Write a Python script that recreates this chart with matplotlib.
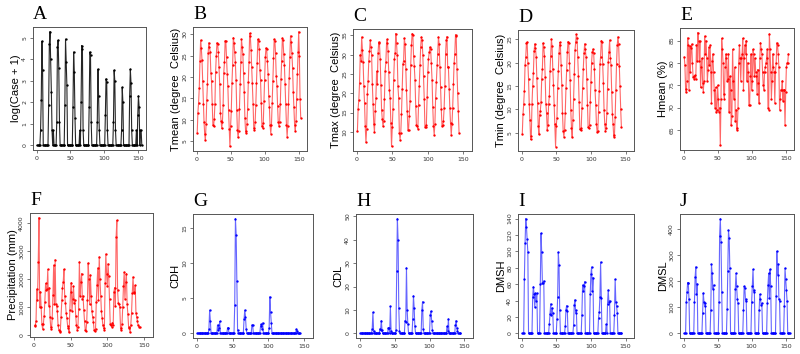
import numpy as np
import matplotlib.pyplot as plt

W, H = 800, 354

# ---- data (monthly series) ----
log_case = [
    0, 0, 0, 0, 0, 0.7, 2.1, 4.85, 3.5, 0, 0, 0,
    0, 0, 0, 0, 0, 1.9, 4.7, 5.3, 4.0, 2.5, 0.7, 0,
    0.7, 0, 0, 0, 0, 1.1, 4.6, 4.9, 3.6, 1.1, 0, 0,
    0, 0, 0, 0, 0, 1.9, 4.95, 3.9, 2.8, 0, 0, 0,
    0, 0, 0, 0, 0, 1.8, 4.35, 3.4, 1.3, 0, 0, 0,
    0, 0, 0, 0.7, 0, 2.0, 4.65, 4.5, 0.7, 0, 0, 0,
    0, 0, 0, 0, 0, 1.8, 4.35, 4.2, 1.1, 0, 0, 0,
    0, 0, 0, 0, 0, 1.1, 3.55, 2.3, 0.7, 0, 0, 0,
    0, 0, 0, 0, 0, 1.4, 3.1, 2.95, 0.7, 0, 0, 0,
    0, 0, 0, 0, 0, 1.1, 3.5, 3.0, 0.7, 0, 0, 0,
    0, 0, 0, 0, 0, 0.7, 2.7, 2.0, 0, 0, 0, 0,
    0, 0, 0, 0, 0, 2.3, 3.55, 2.9, 0.7, 0, 0, 0,
    0, 0, 0, 0.7, 0, 1.4, 2.3, 1.8, 0, 0.7, 0.7, 0,
]

tmean = [
    7.0, 11.7, 14.0, 17.5, 23.8, 28.6, 26.8, 24.0, 19.0, 13.6, 9.5, 6.6,
    5.3, 9.0, 14.6, 18.3, 25.5, 28.0, 27.0, 25.9, 21.0, 19.0, 13.6, 8.8,
    8.5, 10.2, 13.8, 21.2, 25.0, 28.0, 27.6, 25.8, 22.3, 18.3, 11.7, 9.8,
    8.0, 9.5, 13.4, 21.0, 23.4, 28.5, 28.4, 24.6, 20.8, 17.8, 12.2, 7.8,
    3.8, 8.5, 12.0, 18.6, 22.8, 29.2, 28.0, 25.8, 23.4, 19.2, 12.4, 7.6,
    5.9, 7.4, 12.5, 18.4, 23.4, 28.8, 27.0, 25.3, 21.0, 16.5, 10.4, 7.4,
    6.9, 9.0, 12.6, 18.8, 23.6, 30.2, 29.5, 26.4, 22.4, 18.7, 13.8, 8.1,
    7.6, 9.4, 13.4, 18.6, 23.2, 28.8, 28.4, 26.5, 21.6, 19.2, 14.0, 8.5,
    8.1, 9.3, 14.3, 19.2, 24.7, 26.8, 26.5, 23.8, 20.8, 15.5, 12.9, 8.7,
    6.8, 8.8, 13.9, 19.0, 24.5, 28.8, 28.5, 25.5, 20.3, 18.0, 13.2, 9.4,
    8.6, 9.6, 13.8, 19.6, 23.8, 29.1, 28.6, 25.4, 22.8, 18.4, 13.6, 8.9,
    6.1, 8.6, 13.7, 19.8, 24.6, 29.6, 28.2, 25.5, 22.2, 16.6, 12.9, 8.8,
    7.5, 9.7, 14.8, 20.7, 25.8, 30.6, 25.0, 14.8, 10.5,
]

tmax = [
    10.2, 16.0, 18.3, 22.7, 30.0, 28.4, 34.6, 31.2, 28.2, 22.0, 17.6, 11.5,
    7.3, 10.8, 19.8, 23.3, 28.4, 30.9, 33.8, 32.0, 29.9, 22.4, 17.3, 12.0,
    10.0, 15.5, 18.8, 25.7, 22.5, 30.4, 33.3, 33.0, 29.0, 22.2, 15.7, 13.3,
    11.5, 12.8, 18.4, 25.8, 28.0, 33.0, 34.0, 31.0, 25.6, 20.8, 18.7, 12.2,
    6.2, 11.2, 16.0, 23.5, 28.8, 30.5, 35.5, 33.0, 30.0, 21.8, 18.9, 9.8,
    8.0, 9.7, 14.5, 21.0, 27.6, 28.5, 34.3, 32.8, 26.3, 20.8, 15.3, 10.6,
    10.6, 14.2, 18.0, 27.3, 32.6, 35.5, 35.2, 29.6, 27.0, 23.5, 16.8, 11.8,
    11.5, 10.8, 17.0, 22.0, 27.3, 32.0, 34.6, 33.8, 30.0, 24.5, 18.6, 11.3,
    11.3, 11.8, 19.0, 25.4, 29.0, 30.6, 32.0, 31.6, 27.8, 23.5, 16.5, 11.4,
    9.3, 12.0, 18.8, 22.8, 27.3, 30.2, 34.6, 32.8, 26.9, 21.6, 15.8, 11.5,
    11.7, 12.8, 16.3, 21.8, 30.2, 33.8, 34.7, 26.8, 26.8, 21.2, 16.3, 12.2,
    9.2, 12.0, 16.1, 22.4, 27.8, 30.3, 35.2, 34.8, 26.4, 20.2, 15.3, 9.8,
]

tmin = [
    4.8, 9.0, 11.1, 14.0, 19.5, 21.2, 24.2, 24.4, 20.0, 16.5, 11.2, 7.8,
    3.6, 4.3, 11.2, 15.1, 17.8, 22.4, 24.0, 23.2, 21.3, 16.8, 11.3, 6.4,
    4.7, 8.8, 9.7, 11.5, 16.5, 18.7, 24.2, 23.3, 21.4, 17.0, 11.2, 9.2,
    5.6, 6.7, 11.2, 12.8, 18.2, 21.4, 25.0, 23.5, 18.6, 15.3, 11.0, 6.8,
    2.1, 6.5, 8.2, 14.6, 18.3, 22.0, 24.3, 23.7, 19.4, 15.3, 9.2, 5.4,
    4.2, 5.6, 9.3, 14.5, 18.5, 22.3, 24.5, 24.2, 20.0, 16.2, 9.8, 6.0,
    4.1, 7.8, 12.2, 17.5, 22.6, 24.3, 26.0, 25.3, 21.3, 17.2, 11.7, 5.8,
    5.6, 6.0, 10.3, 14.6, 18.6, 22.0, 24.0, 22.8, 21.2, 16.5, 11.0, 6.2,
    6.0, 6.7, 11.6, 15.8, 20.0, 22.3, 22.9, 22.0, 18.7, 14.2, 10.9, 6.8,
    5.2, 5.4, 9.4, 14.0, 19.6, 21.3, 24.7, 24.5, 19.7, 15.7, 9.8, 7.0,
    5.4, 6.1, 9.2, 14.4, 20.2, 22.3, 24.8, 21.0, 19.4, 13.8, 9.1, 6.8,
    4.2, 4.6, 8.5, 14.2, 19.8, 23.7, 25.5, 24.0, 19.2, 15.0, 10.1, 6.3,
]

hmean = [
    81.3, 79.5, 74.2, 73.4, 76.0, 85.6, 84.0, 74.0, 83.8, 78.0, 83.4, 84.2,
    80.0, 76.8, 77.0, 76.5, 77.2, 76.5, 84.0, 80.5, 86.8, 85.0, 80.5, 84.8,
    74.5, 79.0, 81.0, 75.5, 73.5, 76.0, 86.0, 82.0, 85.0, 81.0, 76.0, 78.5,
    83.5, 79.5, 84.0, 78.0, 71.0, 80.5, 82.0, 78.0, 74.0, 70.0, 74.5, 69.0,
    69.5, 75.0, 72.0, 69.0, 70.0, 61.5, 72.0, 85.5, 83.0, 80.0, 73.0, 72.0,
    79.0, 82.0, 81.0, 76.0, 76.5, 82.0, 69.0, 77.0, 74.0, 66.0, 68.0, 83.0,
    76.0, 72.0, 79.0, 67.0, 69.5, 65.0, 65.5, 70.0, 80.0, 84.0, 81.0, 76.0,
    81.0, 82.0, 85.5, 74.0, 81.0, 84.0, 82.0, 85.0, 76.0, 80.0, 78.0, 70.5,
    70.5, 77.0, 82.0, 74.0, 76.0, 83.0, 82.0, 77.0, 81.0, 78.0, 77.0, 73.0,
    78.5, 75.5, 71.0, 81.0, 84.5, 83.0, 82.0, 78.0, 75.0, 74.0, 78.0, 79.0,
    80.0, 81.0, 83.0, 70.0, 69.5, 86.5, 83.0, 78.0, 72.0, 76.0, 82.0, 79.0,
    78.0, 71.0, 78.0, 80.0, 84.5, 84.0, 82.0, 79.0, 69.5, 72.0, 74.0, 74.0,
    76.0, 71.5, 74.0, 74.0, 66.0, 73.5, 79.0, 80.0, 80.0, 82.0,
]

precip = [
    330, 350, 520, 1650, 1250, 2600, 4200, 1000, 1550, 1000, 400, 220,
    400, 700, 1200, 1850, 1600, 1650, 2350, 1050, 1700, 650, 280, 220,
    600, 1450, 2500, 1100, 2700, 1100, 1050, 850, 350, 200, 150, 120,
    650, 1250, 1700, 1900, 2350, 1400, 1150, 800, 600, 330, 240, 100,
    900, 1550, 1880, 880, 1300, 1750, 1150, 1250, 700, 350, 200, 280,
    950, 2620, 1400, 1900, 2200, 1300, 1400, 900, 500, 180, 150, 470,
    1250, 2580, 2000, 1100, 2150, 1400, 850, 650, 480, 200, 150, 220,
    1200, 1800, 2400, 1250, 2800, 2000, 1400, 850, 600, 350, 250, 200,
    1850, 2900, 2200, 1750, 2550, 2100, 1300, 400, 350, 300, 450, 350,
    1550, 1700, 1050, 3500, 4100, 1600, 1150, 1100, 1000, 250, 180, 400,
    1000, 1750, 2250, 1300, 1900, 2200, 1100, 750, 300, 250, 100, 380,
    800, 1500, 2080, 1500, 1550, 1780, 800, 650, 500, 350, 300, 300,
]

cdh = [
    0, 0, 0, 0, 0, 0, 0, 0, 0, 0, 0, 0,
    0, 0, 0, 0, 0.6, 3.3, 1.8, 0, 0, 0, 0, 0,
    0, 0, 0, 0, 1.2, 0.5, 0.8, 1.7, 0, 0, 0, 0,
    0, 0, 0, 0, 0, 0, 0.8, 0.8, 0, 0, 0, 0,
    0, 0, 0, 0, 4.0, 16.3, 14.0, 7.5, 0.5, 0, 0, 0,
    0, 0, 0, 0, 0, 2.0, 3.3, 2.4, 0.6, 0, 0, 0,
    0, 0, 0, 0, 1.2, 1.2, 0, 0, 0, 0, 0, 0,
    0, 0, 0, 0, 1.0, 1.3, 0.6, 1.5, 0, 0, 0, 0,
    0, 0, 0, 0, 0.8, 5.2, 3.0, 1.5, 0, 0, 0, 0,
    0, 0, 0, 0, 0, 0, 0, 0, 0, 0, 0, 0,
    0, 0, 0, 0, 0, 0, 0, 0, 0, 0, 0, 0,
    0, 0, 0, 0, 0, 0, 0.6, 0.4, 0, 0, 0, 0,
]

cdl = [
    0, 0, 0, 0, 0, 0, 0, 0, 0, 0, 0, 0,
    0, 0, 0, 0, 0, 2, 9, 1, 0, 0, 0, 0,
    0, 0, 0, 0, 2, 1.5, 5.5, 1.5, 0, 0, 0, 0,
    0, 0, 0, 0, 2.5, 2.5, 0, 11.5, 1, 0, 0, 0,
    0, 0, 0, 1.5, 26.5, 49, 40, 11, 1, 0, 0, 0,
    0, 0, 0, 0, 5.5, 5, 28, 10, 4, 0, 0, 0,
    0, 0, 0, 6, 16, 11, 3, 0, 0, 0, 0, 0,
    0, 0, 0, 0, 10, 13.5, 2, 0, 0, 0, 0, 0,
    0, 0, 0, 0, 8, 9.5, 5.5, 1.5, 0, 0, 0, 0,
    0, 0, 0, 0, 0, 0, 0, 0, 0, 0, 0, 0,
    0, 0, 0, 0, 3, 1, 6.2, 0, 0, 0, 0, 0,
    0, 0, 0, 0, 3.5, 5.5, 2.5, 1, 0, 0, 0, 0,
]

dmsh = [
    0, 0, 0, 66, 110, 140, 130, 115, 99, 0, 0, 0,
    0, 0, 0, 45, 57, 48, 32, 49, 40, 49, 0, 0,
    0, 0, 60, 122, 99, 61, 62, 64, 0, 0, 0, 0,
    0, 0, 0, 12, 24, 36, 22, 31, 25, 0, 0, 0,
    0, 0, 18, 44, 99, 83, 28, 0, 0, 0, 0, 0,
    0, 0, 9, 29, 34, 27, 0, 0, 0, 0, 0, 0,
    0, 0, 10, 35, 41, 25, 28, 0, 0, 0, 0, 0,
    0, 0, 23, 59, 52, 58, 63, 0, 0, 0, 0, 0,
    0, 0, 48, 72, 81, 52, 68, 0, 0, 0, 0, 0,
    0, 0, 19, 26, 44, 87, 43, 0, 0, 0, 0, 0,
    0, 11, 0, 36, 53, 38, 40, 0, 0, 0, 0, 0,
    0, 22, 66, 38, 34, 25, 0, 0, 0, 0, 0, 0,
]

dmsl = [
    0, 0, 0, 120, 160, 195, 195, 130, 0, 0, 0, 0,
    0, 0, 0, 120, 215, 255, 150, 190, 0, 0, 0, 0,
    0, 0, 0, 80, 155, 120, 105, 115, 0, 0, 0, 0,
    0, 0, 0, 90, 265, 230, 170, 185, 0, 0, 0, 0,
    0, 0, 0, 120, 375, 440, 350, 160, 0, 0, 0, 0,
    0, 0, 0, 95, 240, 395, 365, 250, 0, 0, 0, 0,
    0, 0, 0, 170, 230, 180, 130, 115, 0, 0, 0, 0,
    0, 0, 0, 90, 180, 175, 125, 130, 0, 0, 0, 0,
    0, 0, 0, 120, 180, 245, 160, 165, 0, 0, 0, 0,
    0, 0, 90, 150, 130, 110, 115, 0, 0, 0, 0, 0,
    0, 0, 115, 185, 230, 135, 245, 180, 0, 0, 0, 0,
    0, 0, 0, 145, 315, 225, 265, 130, 125, 0, 0, 0,
    0, 0, 0, 105, 250, 210, 165, 125, 0, 0, 0, 0,
]

xticks = [0, 50, 100, 150]

# (letter, series, colour, y label, y ticks, box in pixels l,t,r,b)
panels = [
    ("A", log_case, "black", "log(Case + 1)", [0, 1, 2, 3, 4, 5], (33, 27, 146, 150)),
    ("B", tmean, "red", "Tmean (degree  Celsius)", [5, 10, 15, 20, 25, 30], (193, 27, 307, 151)),
    ("C", tmax, "red", "Tmax (degree  Celsius)", [10, 15, 20, 25, 30, 35], (353, 29, 472, 151)),
    ("D", tmin, "red", "Tmin (degree  Celsius)", [5, 10, 15, 20, 25], (518, 30, 634, 151)),
    ("E", hmean, "red", "Hmean (%)", [65, 70, 75, 80, 85], (680, 28, 794, 150)),
    ("F", precip, "red", "Precipitation (mm)", [0, 1000, 2000, 3000, 4000], (30, 213, 153, 337)),
    ("G", cdh, "blue", "CDH", [0, 5, 10, 15], (193, 214, 313, 338)),
    ("H", cdl, "blue", "CDL", [0, 10, 20, 30, 40, 50], (356, 214, 473, 338)),
    ("I", dmsh, "blue", "DMSH", [0, 20, 40, 60, 80, 100, 120, 140], (518, 214, 634, 338)),
    ("J", dmsl, "blue", "DMSL", [0, 100, 200, 300, 400], (680, 214, 794, 338)),
]

fig = plt.figure(figsize=(W / 100, H / 100), dpi=100)

for letter, y, col, ylab, yticks, (l, t, r, b) in panels:
    ax = fig.add_axes([l / W, 1 - b / H, (r - l) / W, (b - t) / H])
    y = np.asarray(y, dtype=float)
    x = np.arange(1, len(y) + 1)
    ax.plot(x, y, color=col, lw=0.8, alpha=0.6 if col != "black" else 0.85)
    ax.plot(x, y, "o", color=col, ms=1.7, mew=0)

    # R-style 4% padding
    span = y.max() - y.min()
    ax.set_ylim(y.min() - 0.04 * span, y.max() + 0.04 * span)
    ax.set_xlim(-5.2, 162.2)
    ax.set_xticks(xticks)
    ax.set_yticks(yticks)
    ax.tick_params(axis="both", labelsize=4.5, length=2.2, width=0.5,
                   color="#444444", labelcolor="#333333", pad=2)
    for lbl in ax.get_yticklabels():
        lbl.set_rotation(90)
        lbl.set_va("center")
    for sp in ax.spines.values():
        sp.set_color("#555555")
        sp.set_linewidth(0.7)

    ax.set_ylabel(ylab, fontsize=8, family="Liberation Sans", labelpad=1)
    fig.text(l / W, 1 - (t - 8) / H, letter, fontsize=14,
             family="Liberation Serif", ha="left", va="baseline")

fig.savefig("out.png", dpi=100)
